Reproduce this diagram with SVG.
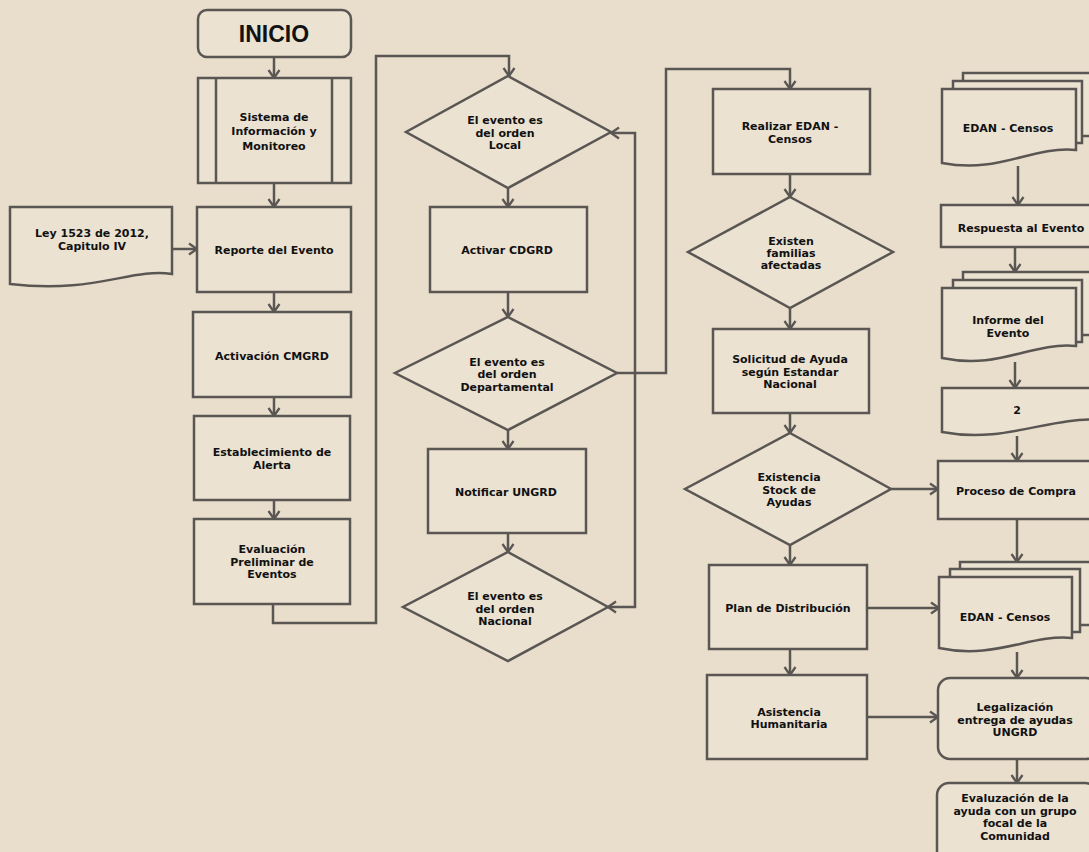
<svg xmlns="http://www.w3.org/2000/svg" width="1089" height="852" viewBox="0 0 1089 852">
<defs>
<style>
.bx{fill:#ebe2d1;stroke:#5a5653;stroke-width:2.5}
.pg{fill:none;stroke:#5a5653;stroke-width:2.5}
.cn{fill:none;stroke:#5a5653;stroke-width:2.5}
.t{font-family:"DejaVu Sans","Liberation Sans",sans-serif;font-weight:bold;font-size:11px;fill:#111;text-anchor:middle}
.big{font-family:"Liberation Sans",Arial,sans-serif;font-weight:bold;font-size:23px;fill:#111;text-anchor:middle}
</style>
<marker id="ar" markerUnits="userSpaceOnUse" markerWidth="14" markerHeight="14" refX="11" refY="7" orient="auto-start-reverse">
<path d="M3,1.5 L11,7 L3,12.5" fill="none" stroke="#5a5653" stroke-width="2.3"/>
</marker>
</defs>
<rect width="1089" height="852" fill="#e8decb"/>

<g id="connectors">
<path class="cn" d="M274,57 V78" marker-end="url(#ar)"/>
<path class="cn" d="M274,183 V207" marker-end="url(#ar)"/>
<path class="cn" d="M172,249 H197" marker-end="url(#ar)"/>
<path class="cn" d="M274,292 V312" marker-end="url(#ar)"/>
<path class="cn" d="M274,397 V416" marker-end="url(#ar)"/>
<path class="cn" d="M274,500 V519" marker-end="url(#ar)"/>
<path class="cn" d="M273,604 V623 H376 V56 H509 V76" marker-end="url(#ar)"/>
<path class="cn" d="M508,188 V207" marker-end="url(#ar)"/>
<path class="cn" d="M508,292 V317" marker-end="url(#ar)"/>
<path class="cn" d="M508,430 V449" marker-end="url(#ar)"/>
<path class="cn" d="M508,533 V552" marker-end="url(#ar)"/>
<path class="cn" d="M611,133 H635 V607 H608" marker-start="url(#ar)" marker-end="url(#ar)"/>
<path class="cn" d="M617,373 H666 V69 H790 V89" marker-end="url(#ar)"/>
<path class="cn" d="M790,174 V197" marker-end="url(#ar)"/>
<path class="cn" d="M790,308 V329" marker-end="url(#ar)"/>
<path class="cn" d="M790,413 V433" marker-end="url(#ar)"/>
<path class="cn" d="M891,489 H938" marker-end="url(#ar)"/>
<path class="cn" d="M790,545 V565" marker-end="url(#ar)"/>
<path class="cn" d="M867,608 H939" marker-end="url(#ar)"/>
<path class="cn" d="M790,649 V675" marker-end="url(#ar)"/>
<path class="cn" d="M867,717 H938" marker-end="url(#ar)"/>
<path class="cn" d="M1018,166 V205" marker-end="url(#ar)"/>
<path class="cn" d="M1015,247 V272" marker-end="url(#ar)"/>
<path class="cn" d="M1015,362 V388" marker-end="url(#ar)"/>
<path class="cn" d="M1017,436 V461" marker-end="url(#ar)"/>
<path class="cn" d="M1017,519 V562" marker-end="url(#ar)"/>
<path class="cn" d="M1017,652 V678" marker-end="url(#ar)"/>
<path class="cn" d="M1017,759 V783" marker-end="url(#ar)"/>
</g>

<g id="inicio">
<rect class="bx" x="198" y="10" width="153" height="47" rx="9"/>
<text class="big" x="274" y="42">INICIO</text>
</g>
<g id="sistema">
<rect class="bx" x="198" y="78" width="153" height="105"/>
<path class="pg" d="M216,78 V183 M332,78 V183"/>
<text class="t" x="274" y="121">Sistema de</text>
<text class="t" x="274" y="135">Información y</text>
<text class="t" x="274" y="150">Monitoreo</text>
</g>
<g id="ley">
<path class="bx" d="M10,207 H172 V274 C130,268 95,294 10,284 Z"/>
<text class="t" x="92" y="237">Ley 1523 de 2012,</text>
<text class="t" x="92" y="250">Capitulo  IV</text>
</g>
<g id="reporte">
<rect class="bx" x="197" y="207" width="154" height="85"/>
<text class="t" x="274" y="254">Reporte del Evento</text>
</g>
<g id="activacion">
<rect class="bx" x="193" y="312" width="158" height="85"/>
<text class="t" x="272" y="360">Activación CMGRD</text>
</g>
<g id="establecimiento">
<rect class="bx" x="194" y="416" width="156" height="84"/>
<text class="t" x="272" y="456">Establecimiento de</text>
<text class="t" x="272" y="469">Alerta</text>
</g>
<g id="evaluacion">
<rect class="bx" x="194" y="519" width="156" height="85"/>
<text class="t" x="272" y="553">Evaluación</text>
<text class="t" x="272" y="566">Preliminar de</text>
<text class="t" x="272" y="578">Eventos</text>
</g>

<g id="d-local">
<polygon class="bx" points="508,76 611,132 508,188 406,132"/>
<text class="t" x="505" y="124">El evento es</text>
<text class="t" x="505" y="137">del orden</text>
<text class="t" x="505" y="149">Local</text>
</g>
<g id="activar">
<rect class="bx" x="430" y="207" width="157" height="85"/>
<text class="t" x="507" y="254">Activar CDGRD</text>
</g>
<g id="d-departamental">
<polygon class="bx" points="508,317 617,373 508,430 395,373"/>
<text class="t" x="507" y="366">El evento es</text>
<text class="t" x="507" y="378">del orden</text>
<text class="t" x="507" y="391">Departamental</text>
</g>
<g id="notificar">
<rect class="bx" x="428" y="449" width="158" height="84"/>
<text class="t" x="506" y="496">Notificar UNGRD</text>
</g>
<g id="d-nacional">
<polygon class="bx" points="508,552 608,607 508,661 403,607"/>
<text class="t" x="505" y="600">El evento es</text>
<text class="t" x="505" y="613">del orden</text>
<text class="t" x="505" y="625">Nacional</text>
</g>

<g id="realizar">
<rect class="bx" x="713" y="89" width="157" height="85"/>
<text class="t" x="790" y="130">Realizar EDAN -</text>
<text class="t" x="790" y="143">Censos</text>
</g>
<g id="d-familias">
<polygon class="bx" points="790,197 893,252 790,308 688,252"/>
<text class="t" x="791" y="245">Existen</text>
<text class="t" x="791" y="257">familias</text>
<text class="t" x="791" y="269">afectadas</text>
</g>
<g id="solicitud">
<rect class="bx" x="713" y="329" width="156" height="84"/>
<text class="t" x="790" y="363">Solicitud de Ayuda</text>
<text class="t" x="790" y="376">según Estandar</text>
<text class="t" x="790" y="388">Nacional</text>
</g>
<g id="d-stock">
<polygon class="bx" points="790,433 891,489 790,545 685,489"/>
<text class="t" x="789" y="481">Existencia</text>
<text class="t" x="789" y="494">Stock de</text>
<text class="t" x="789" y="506">Ayudas</text>
</g>
<g id="plan">
<rect class="bx" x="709" y="565" width="158" height="84"/>
<text class="t" x="788" y="612">Plan de Distribución</text>
</g>
<g id="asistencia">
<rect class="bx" x="707" y="675" width="160" height="84"/>
<text class="t" x="789" y="716">Asistencia</text>
<text class="t" x="789" y="728">Humanitaria</text>
</g>

<g id="edan1">
<path class="bx" d="M963,81 V73 H1096 V136 H1082"/>
<path class="bx" d="M953,89 V81 H1082 V143 H1076"/>
<path class="bx" d="M942,89 H1076 V150 C1030,146 1000,174 942,163 Z"/>
<text class="t" x="1008" y="132">EDAN - Censos</text>
</g>
<g id="respuesta">
<rect class="bx" x="941" y="205" width="160" height="42"/>
<text class="t" x="1021" y="232">Respuesta al Evento</text>
</g>
<g id="informe">
<path class="bx" d="M963,280 V272 H1096 V335 H1082"/>
<path class="bx" d="M953,288 V280 H1082 V342 H1076"/>
<path class="bx" d="M942,288 H1076 V346 C1030,342 1000,370 942,358 Z"/>
<text class="t" x="1008" y="324">Informe del</text>
<text class="t" x="1008" y="337">Evento</text>
</g>
<g id="doc2">
<path class="bx" d="M942,388 H1100 V420 C1050,416 1005,444 942,432 Z"/>
<text class="t" x="1017" y="414">2</text>
</g>
<g id="compra">
<rect class="bx" x="938" y="461" width="162" height="58"/>
<text class="t" x="1016" y="495">Proceso de Compra</text>
</g>
<g id="edan2">
<path class="bx" d="M960,569 V562 H1096 V625 H1080"/>
<path class="bx" d="M950,577 V569 H1080 V632 H1072"/>
<path class="bx" d="M939,577 H1072 V638 C1030,634 995,660 939,648 Z"/>
<text class="t" x="1005" y="621">EDAN - Censos</text>
</g>
<g id="legalizacion">
<rect class="bx" x="938" y="678" width="160" height="81" rx="12"/>
<text class="t" x="1015" y="711">Legalización</text>
<text class="t" x="1015" y="724">entrega de ayudas</text>
<text class="t" x="1015" y="736">UNGRD</text>
</g>
<g id="evaluzacion">
<rect class="bx" x="937" y="783" width="160" height="80" rx="12"/>
<text class="t" x="1015" y="802">Evaluzación de la</text>
<text class="t" x="1015" y="815">ayuda con un grupo</text>
<text class="t" x="1015" y="827">focal de la</text>
<text class="t" x="1015" y="840">Comunidad</text>
</g>
</svg>
